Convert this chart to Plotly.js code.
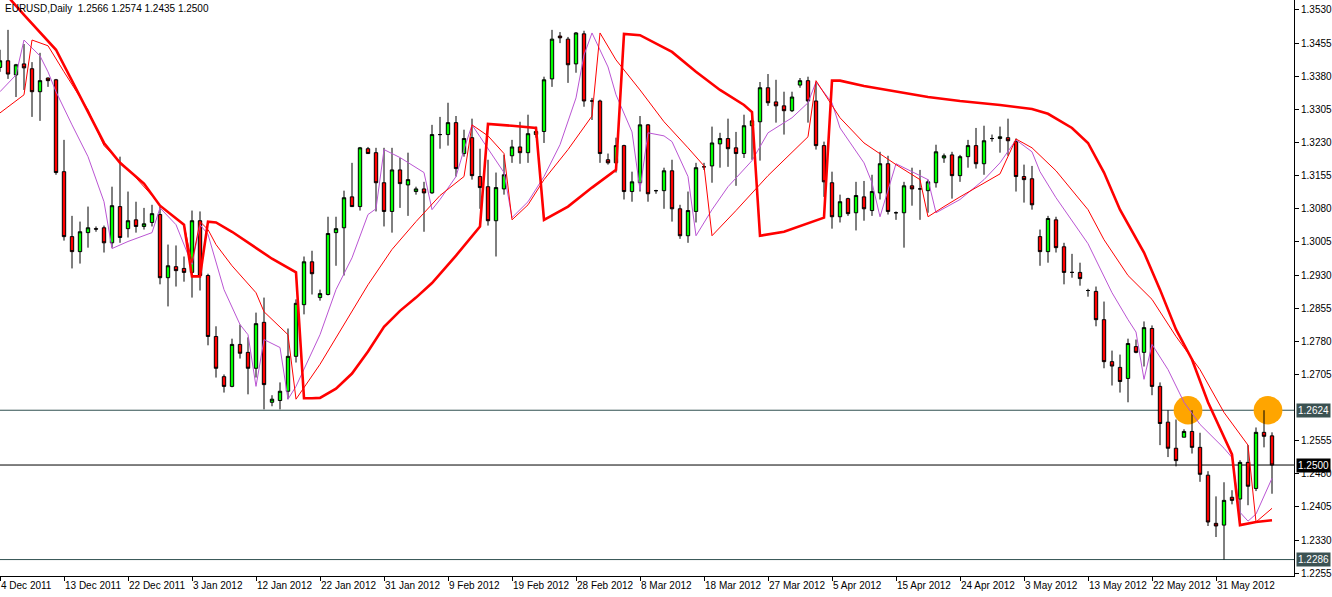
<!DOCTYPE html>
<html><head><meta charset="utf-8">
<script src="https://cdn.plot.ly/plotly-3.0.1.min.js"></script>
<style>html,body{margin:0;padding:0;background:#fff;overflow:hidden}#chart{width:1332px;height:597px}</style>
</head><body><div id="chart"></div>
<script>
// ---------- DATA ----------
const chartTitle = "EURUSD,Daily\u00a0\u00a01.2566 1.2574 1.2435 1.2500";
const openP = [1.3400,1.3415,1.3383,1.3408,1.3397,1.3345,1.3376,1.3372,1.3164,1.3017,
1.2983,1.3026,1.3035,1.3037,1.3003,1.3085,1.3035,1.3055,1.3040,1.3049,
1.3067,1.2924,1.2949,1.2945,1.2936,1.3053,1.2929,1.2791,1.2700,1.2678,
1.2773,1.2755,1.2719,1.2823,1.2642,1.2646,1.2667,1.2746,1.2863,1.2960,
1.2879,1.2886,1.3026,1.3037,1.3107,1.3085,1.3216,1.3207,1.3139,1.3074,
1.3168,1.3134,1.3119,1.3125,1.3116,1.3248,1.3248,1.3275,1.3205,1.3241,
1.3153,1.3130,1.3053,1.3125,1.3200,1.3220,1.3207,1.3248,1.3255,1.3374,
1.3471,1.3464,1.3408,1.3476,1.3324,1.3324,1.3191,1.3184,1.3223,1.3119,
1.3139,1.3270,1.3121,1.3121,1.3166,1.3080,1.3019,1.3074,1.3175,1.3177,
1.3227,1.3239,1.3218,1.3205,1.3268,1.3277,1.3354,1.3322,1.3313,1.3302,
1.3360,1.3370,1.3324,1.3223,1.3139,1.3062,1.3103,1.3071,1.3107,1.3076,
1.3116,1.3182,1.3071,1.3071,1.3132,1.3125,1.3121,1.3139,1.3195,1.3202,
1.3155,1.3198,1.3223,1.3182,1.3239,1.3239,1.3241,1.3232,1.3153,1.3148,
1.3017,1.2983,1.3055,1.2994,1.2936,1.2936,1.2895,1.2893,1.2829,1.2734,
1.2721,1.2696,1.2768,1.2755,1.2809,1.2678,1.2597,1.2538,1.2563,1.2576,
1.2540,1.2477,1.2368,1.2364,1.2427,1.2423,1.2506,1.2447,1.2574,1.2566];
const highP = [1.3440,1.3485,1.3408,1.3453,1.3412,1.3433,1.3377,1.3374,1.3236,1.3064,
1.3051,1.3085,1.3040,1.3042,1.3130,1.3198,1.3119,1.3096,1.3082,1.3089,
1.3085,1.2999,1.2997,1.2972,1.3076,1.3074,1.2933,1.2814,1.2705,1.2786,
1.2818,1.2789,1.2845,1.2879,1.2658,1.2687,1.2809,1.2875,1.2972,1.2985,
1.2897,1.3062,1.3062,1.3121,1.3184,1.3220,1.3220,1.3218,1.3218,1.3218,
1.3195,1.3207,1.3130,1.3141,1.3270,1.3288,1.3320,1.3290,1.3259,1.3284,
1.3216,1.3191,1.3162,1.3202,1.3236,1.3277,1.3293,1.3266,1.3379,1.3485,
1.3480,1.3469,1.3480,1.3483,1.3331,1.3327,1.3205,1.3241,1.3225,1.3164,
1.3290,1.3272,1.3123,1.3173,1.3191,1.3089,1.3119,1.3184,1.3184,1.3266,
1.3252,1.3284,1.3254,1.3293,1.3293,1.3367,1.3385,1.3372,1.3345,1.3345,
1.3376,1.3379,1.3367,1.3232,1.3164,1.3112,1.3105,1.3141,1.3143,1.3157,
1.3209,1.3200,1.3074,1.3141,1.3173,1.3168,1.3146,1.3225,1.3205,1.3209,
1.3202,1.3236,1.3263,1.3268,1.3248,1.3266,1.3284,1.3239,1.3180,1.3177,
1.3033,1.3064,1.3062,1.3003,1.2978,1.2958,1.2899,1.2904,1.2870,1.2759,
1.2750,1.2786,1.2784,1.2825,1.2816,1.2687,1.2624,1.2603,1.2581,1.2624,
1.2573,1.2486,1.2429,1.2461,1.2443,1.2511,1.2545,1.2585,1.2624,1.2574];
const lowP = [1.3390,1.3374,1.3333,1.3349,1.3288,1.3279,1.3356,1.3157,1.3008,1.2945,
1.2956,1.2992,1.3028,1.2981,1.2992,1.3003,1.3015,1.3026,1.3033,1.3040,
1.2909,1.2859,1.2904,1.2915,1.2879,1.2895,1.2771,1.2698,1.2664,1.2676,
1.2741,1.2660,1.2698,1.2626,1.2633,1.2626,1.2649,1.2732,1.2841,1.2886,
1.2872,1.2884,1.2951,1.2929,1.3084,1.3076,1.3204,1.3074,1.3040,1.3026,
1.3082,1.3064,1.3112,1.3028,1.3114,1.3216,1.3223,1.3153,1.3198,1.3146,
1.3080,1.3042,1.2972,1.3112,1.3184,1.3182,1.3184,1.3241,1.3229,1.3356,
1.3455,1.3365,1.3388,1.3311,1.3281,1.3184,1.3180,1.3162,1.3101,1.3096,
1.3119,1.3096,1.3114,1.3080,1.3051,1.3012,1.3003,1.3049,1.3168,1.3139,
1.3173,1.3175,1.3132,1.3195,1.3191,1.3189,1.3313,1.3275,1.3248,1.3299,
1.3354,1.3275,1.3214,1.3107,1.3035,1.3049,1.3064,1.3031,1.3053,1.3064,
1.3101,1.3067,1.3055,1.2992,1.3087,1.3055,1.3071,1.3128,1.3184,1.3103,
1.3141,1.3173,1.3171,1.3157,1.3232,1.3207,1.3200,1.3119,1.3094,1.3078,
1.2951,1.2958,1.2981,1.2909,1.2924,1.2906,1.2881,1.2814,1.2719,1.2680,
1.2664,1.2642,1.2753,1.2723,1.2658,1.2545,1.2518,1.2497,1.2563,1.2526,
1.2462,1.2362,1.2337,1.2286,1.2411,1.2371,1.2409,1.2441,1.2540,1.2435];
const closeP = [1.3415,1.3385,1.3406,1.3399,1.3345,1.3370,1.3370,1.3162,1.3017,1.2983,
1.3028,1.3037,1.3034,1.3003,1.3087,1.3015,1.3053,1.3040,1.3046,1.3069,
1.2924,1.2951,1.2940,1.2936,1.3053,1.2929,1.2791,1.2719,1.2678,1.2773,
1.2753,1.2719,1.2820,1.2682,1.2649,1.2667,1.2746,1.2866,1.2960,1.2933,
1.2888,1.3024,1.3035,1.3105,1.3085,1.3218,1.3205,1.3139,1.3074,1.3168,
1.3137,1.3146,1.3125,1.3116,1.3248,1.3248,1.3275,1.3171,1.3239,1.3155,
1.3128,1.3053,1.3128,1.3157,1.3220,1.3207,1.3250,1.3255,1.3372,1.3464,
1.3467,1.3406,1.3478,1.3324,1.3324,1.3205,1.3184,1.3223,1.3119,1.3141,
1.3270,1.3114,1.3121,1.3166,1.3080,1.3019,1.3076,1.3173,1.3175,1.3229,
1.3239,1.3216,1.3205,1.3268,1.3279,1.3354,1.3320,1.3313,1.3302,1.3333,
1.3370,1.3324,1.3223,1.3141,1.3062,1.3096,1.3069,1.3110,1.3080,1.3119,
1.3182,1.3074,1.3071,1.3132,1.3125,1.3125,1.3141,1.3209,1.3200,1.3155,
1.3198,1.3223,1.3182,1.3234,1.3239,1.3243,1.3234,1.3153,1.3146,1.3089,
1.2983,1.3058,1.2992,1.2936,1.2936,1.2922,1.2895,1.2829,1.2734,1.2724,
1.2689,1.2775,1.2755,1.2811,1.2678,1.2594,1.2538,1.2510,1.2576,1.2540,
1.2479,1.2371,1.2362,1.2420,1.2420,1.2506,1.2452,1.2574,1.2565,1.2500];

const thickBars = [1,3,7,11,13,15,18,20,23,24,25,26,27,29,32,34,37,38,39,40,42,44,46,48,50,52,54,57,60,61,64,67,68,71,74,77,78,80,84,87,90,93,94,95,98,103,104,105,108,112,116,120,125,129,131,134,136,138,140,143,145,147,149,151,154,155,157,159];
const thickVals = [1.3560,1.3519,1.3440,1.3297,1.3229,1.3184,1.3137,1.3087,1.3044,1.2927,1.2927,1.3051,1.3049,1.3028,1.2992,1.2967,1.2936,1.2651,1.2651,1.2652,1.2673,1.2707,1.2757,1.2813,1.2849,1.2879,1.2912,1.2974,1.3040,1.3272,1.3268,1.3263,1.3055,1.3085,1.3128,1.3168,1.3476,1.3473,1.3435,1.3390,1.3349,1.3315,1.3299,1.3019,1.3028,1.3060,1.3370,1.3370,1.3358,1.3345,1.3333,1.3324,1.3315,1.3306,1.3295,1.3263,1.3229,1.3162,1.3078,1.2981,1.2897,1.2807,1.2739,1.2642,1.2524,1.2364,1.2371,1.2375];

const thinBars = [0,3,4,6,8,11,13,17,19,20,23,24,25,26,27,29,32,33,36,37,40,43,46,49,52,55,58,59,61,63,64,66,68,71,74,75,77,80,83,86,88,89,92,96,101,102,105,108,112,115,116,118,120,125,127,129,132,136,138,141,144,147,150,153,156,157,159];
const thinVals = [1.3297,1.3338,1.3462,1.3449,1.3390,1.3304,1.3223,1.3150,1.3110,1.3087,1.3044,1.2958,1.3051,1.3033,1.2999,1.2951,1.2890,1.2847,1.2795,1.2649,1.2728,1.2818,1.2908,1.2988,1.3051,1.3110,1.3153,1.3270,1.3245,1.3205,1.3055,1.3089,1.3146,1.3214,1.3290,1.3478,1.3417,1.3349,1.3277,1.3218,1.3177,1.3019,1.3076,1.3155,1.3243,1.3370,1.3286,1.3229,1.3180,1.3146,1.3062,1.3085,1.3107,1.3159,1.3238,1.3218,1.3166,1.3078,1.3010,1.2929,1.2875,1.2791,1.2716,1.2619,1.2545,1.2371,1.2402];

const purpleBars = [0,2,3,4,5,6,7,9,11,13,14,16,19,20,22,24,25,26,28,30,31,32,33,35,36,37,40,42,44,46,47,48,50,53,54,55,57,58,59,60,63,64,66,68,70,72,73,74,76,77,79,80,81,83,84,86,87,89,91,94,96,99,101,102,104,105,108,109,110,112,116,117,120,123,125,127,129,130,132,136,139,141,142,143,144,146,148,150,153,154,155,156,157,159];
const purpleVals = [1.3345,1.3383,1.3462,1.3444,1.3426,1.3390,1.3345,1.3270,1.3198,1.3096,1.2990,1.3006,1.3026,1.3082,1.3044,1.2954,1.3044,1.3022,1.2897,1.2818,1.2795,1.2678,1.2784,1.2766,1.2649,1.2678,1.2795,1.2897,1.2969,1.3067,1.3080,1.3214,1.3196,1.3162,1.3078,1.3101,1.3153,1.3214,1.3270,1.3243,1.3162,1.3060,1.3096,1.3153,1.3225,1.3331,1.3428,1.3478,1.3401,1.3338,1.3254,1.3123,1.3252,1.3245,1.3232,1.3153,1.3019,1.3078,1.3130,1.3189,1.3252,1.3286,1.3320,1.3367,1.3320,1.3263,1.3184,1.3139,1.3062,1.3182,1.3146,1.3071,1.3101,1.3146,1.3184,1.3236,1.3209,1.3164,1.3105,1.3001,1.2890,1.2829,1.2801,1.2694,1.2773,1.2716,1.2642,1.2592,1.2538,1.2517,1.2393,1.2373,1.2389,1.2470];

const tickLabels = ["4 Dec 2011","13 Dec 2011","22 Dec 2011","3 Jan 2012","12 Jan 2012","22 Jan 2012","31 Jan 2012","9 Feb 2012","19 Feb 2012","28 Feb 2012","8 Mar 2012","18 Mar 2012","27 Mar 2012","5 Apr 2012","15 Apr 2012","24 Apr 2012","3 May 2012","13 May 2012","22 May 2012","31 May 2012"];
const tickBars = [0,8,16,24,32,40,48,56,64,72,80,88,96,104,112,120,128,136,144,152];
const priceTicks = [1.2255,1.2330,1.2405,1.2480,1.2555,1.2705,1.2780,1.2855,1.2930,1.3005,1.3080,1.3155,1.3230,1.3305,1.3380,1.3455,1.3530];

const levelLines = [1.2624, 1.2500, 1.2286];
const levelLabels = ["1.2624", "1.2500", "1.2286"];
const levelColors = ["#2F4F4F", "#000000", "#2F4F4F"];
const highlightBars = [148.5, 158.5];
const highlightLevel = 1.2624;

// ---------- CHART ----------
const bars = openP.map((_, i) => i);
const FONT = {family: "Liberation Sans, Arial, sans-serif", size: 10, color: "#000"};

const traces = [
  {type: "candlestick", x: bars, open: openP, high: highP, low: lowP, close: closeP,
   increasing: {line: {color: "#000", width: 1}, fillcolor: "#00FF00"},
   decreasing: {line: {color: "#000", width: 1}, fillcolor: "#FF0000"},
   whiskerwidth: 0, hoverinfo: "skip", showlegend: false},
  {type: "scatter", mode: "lines", x: purpleBars, y: purpleVals,
   line: {color: "#BA55D3", width: 1}, hoverinfo: "skip", showlegend: false},
  {type: "scatter", mode: "lines", x: thinBars, y: thinVals,
   line: {color: "#FF0000", width: 1}, hoverinfo: "skip", showlegend: false},
  {type: "scatter", mode: "lines", x: thickBars, y: thickVals,
   line: {color: "#FF0000", width: 2.6}, hoverinfo: "skip", showlegend: false}
];

const shapes = [];
highlightBars.forEach(b => shapes.push({type: "circle", xref: "x", yref: "y",
  x0: b - 1.8, x1: b + 1.8, y0: highlightLevel - 0.0032, y1: highlightLevel + 0.0032,
  fillcolor: "#FFA500", line: {width: 0}, layer: "below"}));
levelLines.forEach((v, k) => shapes.push({type: "line", xref: "paper", yref: "y",
  x0: 0, x1: 1, y0: v, y1: v, line: {color: levelColors[k], width: 1}, layer: "below"}));

const annotations = [{xref: "paper", yref: "paper", x: 0.002, y: 0.999, xanchor: "left", yanchor: "top",
  text: chartTitle, showarrow: false, font: FONT}];
levelLines.forEach((v, k) => annotations.push({xref: "paper", yref: "y", x: 1, y: v,
  xanchor: "left", yanchor: "middle", xshift: 2, text: levelLabels[k], showarrow: false,
  bgcolor: levelColors[k] === "#000000" ? "#000000" : "#3B5252", borderpad: 1,
  font: {family: FONT.family, size: 10, color: "#FFFFFF"}}));

const layout = {
  width: 1332, height: 597,
  margin: {l: 0, r: 38, t: 0, b: 21, pad: 0},
  paper_bgcolor: "#FFFFFF", plot_bgcolor: "#FFFFFF",
  boxgap: 0.4,
  showlegend: false,
  hovermode: false,
  xaxis: {type: "linear", range: [0, 161.75], rangeslider: {visible: false},
    tickmode: "array", tickvals: tickBars, ticktext: tickLabels, tickangle: 0,
    ticks: "outside", ticklen: 4, tickcolor: "#000", tickwidth: 1,
    ticklabelposition: "outside right",
    showline: true, linecolor: "#000", linewidth: 1, mirror: true,
    showgrid: false, zeroline: false, tickfont: FONT, fixedrange: true},
  yaxis: {side: "right", range: [1.22488, 1.35526],
    tickmode: "array", tickvals: priceTicks, tickformat: ".4f",
    ticks: "outside", ticklen: 4, tickcolor: "#000", tickwidth: 1,
    showline: true, linecolor: "#000", linewidth: 1,
    showgrid: false, zeroline: false, tickfont: FONT, fixedrange: true},
  shapes: shapes,
  annotations: annotations
};

Plotly.newPlot("chart", traces, layout, {displayModeBar: false, staticPlot: true});
</script>
</body></html>
